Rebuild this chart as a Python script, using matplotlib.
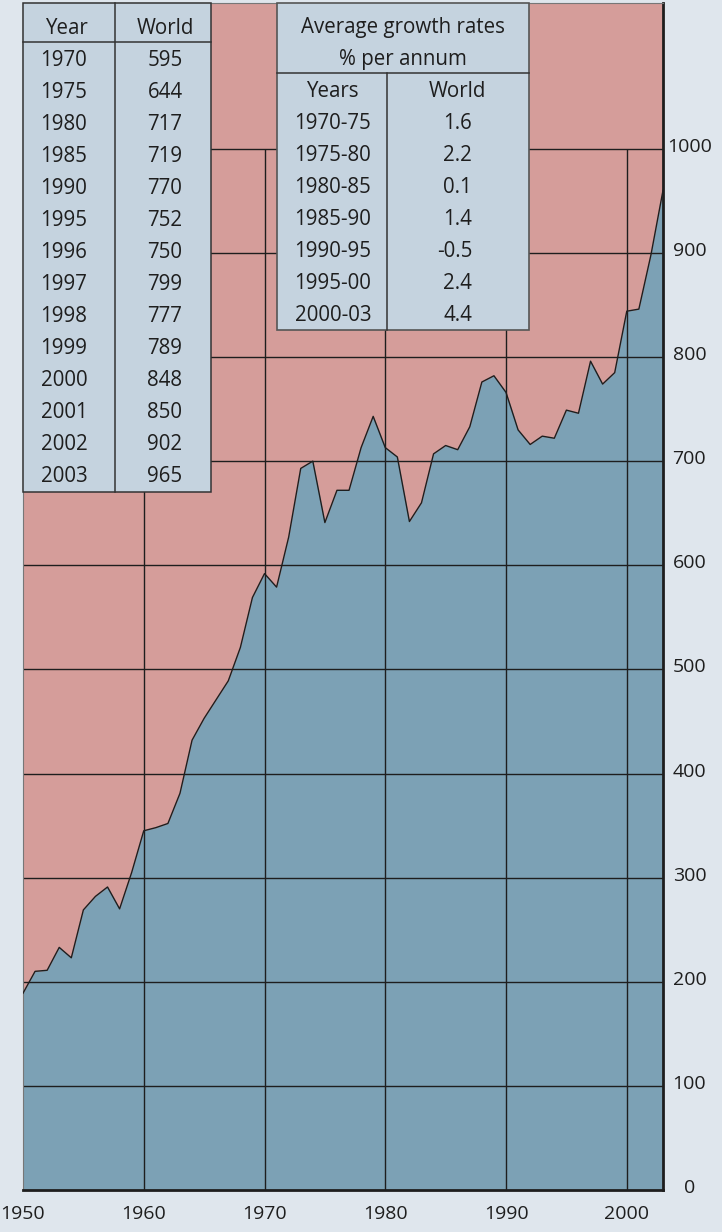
import matplotlib
matplotlib.use('Agg')
import matplotlib.pyplot as plt
from matplotlib.patches import Rectangle
from matplotlib.transforms import ScaledTranslation

plt.rcParams['font.family'] = ['Open Sans', 'DejaVu Sans']

# --------------------------------------------------
# Data
# --------------------------------------------------
years = list(range(1950, 2004))
world = [189, 210, 211, 233, 223, 269, 282, 291, 270, 305,
         345, 348, 352, 381, 432, 453, 471, 489, 521, 569,
         592, 579, 627, 693, 700, 641, 672, 672, 713, 743,
         713, 704, 642, 660, 707, 715, 711, 733, 776, 782,
         766, 730, 716, 724, 722, 749, 746, 796, 774, 785,
         844, 846, 898, 960]

table_years = ['1970', '1975', '1980', '1985', '1990', '1995', '1996',
               '1997', '1998', '1999', '2000', '2001', '2002', '2003']
table_world = ['595', '644', '717', '719', '770', '752', '750',
               '799', '777', '789', '848', '850', '902', '965']

growth_periods = ['1970-75', '1975-80', '1980-85', '1985-90',
                  '1990-95', '1995-00', '2000-03']
growth_world = ['1.6', '2.2', '0.1', '1.4', '-0.5', '2.4', '4.4']

y_ticks = list(range(0, 1001, 100))
x_ticks = list(range(1950, 2001, 10))

# --------------------------------------------------
# Colours
# --------------------------------------------------
BG = '#dfe6ed'
PINK = '#d59d9a'
BLUE = '#7ca1b5'
TABLE_BG = '#c5d3df'
INK = '#1e1e1e'
FS = 14.8

W, H = 722, 1232
fig = plt.figure(figsize=(W / 100, H / 100), dpi=100)
fig.patch.set_facecolor(BG)

left, right, top, bottom = 23, 663, 3, 1190
ax = fig.add_axes([left / W, 1 - bottom / H, (right - left) / W, (bottom - top) / H])
ax.set_facecolor(PINK)
ax.fill_between(years, world, 0, color=BLUE, linewidth=0, zorder=1)
ax.hlines(y_ticks[1:], 1950, 2003, color=INK, lw=1.0, zorder=2)
ax.vlines(x_ticks[1:], 0, 1000, color=INK, lw=1.0, zorder=2)
ax.plot(years, world, color=INK, lw=1.0, zorder=3)

ax.set_xlim(1950, 2003)
ax.set_ylim(0, 1140)

ax.yaxis.tick_right()
ax.set_yticks(y_ticks)
ax.set_yticklabels([str(v) for v in y_ticks], fontsize=14, color=INK, ha='center')
ax.tick_params(axis='y', length=0, pad=19)
shift = ScaledTranslation(0, 4 / 100, fig.dpi_scale_trans)
for lab in ax.get_yticklabels():
    lab.set_transform(lab.get_transform() + shift)
ax.set_xticks(x_ticks)
ax.set_xticklabels([str(v) for v in x_ticks], fontsize=14, color=INK)
ax.tick_params(axis='x', length=0, pad=11)

for side in ['left', 'top']:
    ax.spines[side].set_color('#777777')
    ax.spines[side].set_linewidth(0.8)
for side in ['right', 'bottom']:
    ax.spines[side].set_color(INK)
    ax.spines[side].set_linewidth(2)

# --------------------------------------------------
# Tables (overlay in pixel coordinates)
# --------------------------------------------------
ov = fig.add_axes([0, 0, 1, 1])
ov.set_xlim(0, W)
ov.set_ylim(H, 0)
ov.axis('off')
ov.patch.set_alpha(0)


def cell(x, y, s, ha='center'):
    ov.text(x, y, s, ha=ha, va='baseline', fontsize=FS, color=INK)


# left table: yearly values
ov.add_patch(Rectangle((23, 3), 188, 489, facecolor=TABLE_BG, edgecolor='#333333', lw=1.1))
ov.plot([115, 115], [3, 492], color='#333333', lw=1.1)
ov.plot([23, 211], [41.7, 41.7], color='#333333', lw=1.1)
cell(66, 33.5, 'Year')
cell(165, 33.5, 'World')
for i, (yr, val) in enumerate(zip(table_years, table_world)):
    y = 65.7 + 32.05 * i
    cell(64, y, yr)
    cell(165, y, val)

# right table: average growth rates
ov.add_patch(Rectangle((277, 3), 252, 327, facecolor=TABLE_BG, edgecolor='#555555', lw=1.2))
ov.plot([277, 529], [73.3, 73.3], color='#333333', lw=1.1)
ov.plot([387, 387], [73.3, 330], color='#333333', lw=1.1)
cell(403, 33.3, 'Average growth rates')
cell(403, 65, '% per annum')
cell(332, 96.7, 'Years')
cell(457, 96.7, 'World')
for i, (per, g) in enumerate(zip(growth_periods, growth_world)):
    y = 129.3 + 32 * i
    cell(333, y, per)
    cell(472, y, g, ha='right')

fig.savefig('out.png', dpi=100, facecolor=BG)
